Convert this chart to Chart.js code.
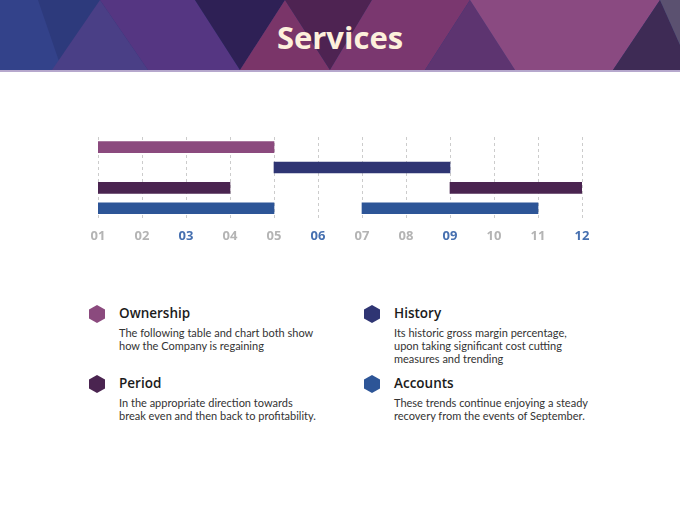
<!DOCTYPE html>
<html>
<head>
<meta charset="utf-8">
<script src="https://cdn.jsdelivr.net/npm/chart.js@4/dist/chart.umd.min.js"></script>
<style>
  html, body { margin: 0; padding: 0; background: #ffffff; }
  body { width: 680px; height: 510px; position: relative; overflow: hidden; font-family: "Open Sans", sans-serif; }
  #header { position: absolute; left: 0; top: 0; width: 680px; height: 72px; }
  #title { position: absolute; left: 0; top: 17px; width: 680px; text-align: center; font-family: "Open Sans", sans-serif; font-weight: 700; font-size: 31px; line-height: 40px; color: #fdf0dc; }
  #chartBox { position: absolute; left: 0; top: 120px; width: 680px; height: 151px; }
  .hex { position: absolute; width: 16px; height: 18px; clip-path: polygon(50% 0, 100% 25%, 100% 75%, 50% 100%, 0 75%, 0 25%); }
  .ttl { position: absolute; font-family: "Open Sans", sans-serif; font-weight: 600; font-size: 13.5px; color: #1b1b1b; white-space: nowrap; line-height: 18px; }
  .desc { position: absolute; font-family: Lato, sans-serif; font-size: 11px; color: #333333; line-height: 13px; white-space: nowrap; }
</style>
</head>
<body>
<svg id="header" width="680" height="72" viewBox="0 0 680 72">
  <rect x="0" y="0" width="680" height="70" fill="#2d3a7c"/>
  <polygon points="0,0 38,0 62,70 0,70" fill="#33428a"/>
  <polygon points="100,0 52,70 148,70" fill="#4a3f86"/>
  <polygon points="100,0 195,0 240,70 148,70" fill="#553682"/>
  <polygon points="195,0 285,0 240,70" fill="#2e2055"/>
  <polygon points="285,0 240,70 330,70" fill="#7a3569"/>
  <polygon points="285,0 372,0 330,70" fill="#4e2352"/>
  <polygon points="372,0 470,0 425,70 330,70" fill="#7a376f"/>
  <polygon points="470,0 425,70 515,70" fill="#5d3470"/>
  <polygon points="470,0 660,0 613,70 515,70" fill="#8a4a81"/>
  <polygon points="660,0 680,45 680,70 613,70" fill="#3e2b55"/>
  <polygon points="660,0 680,0 680,45" fill="#5b5170"/>
  <rect x="0" y="70" width="680" height="2" fill="#b6a8cd"/>
</svg>
<div id="title">Services</div>
<div id="chartBox"><canvas id="c"></canvas></div>
<div id="legend"></div>
<script>
const categories = ["Ownership", "History", "Period", "Accounts"];
const firstStart = [1, 5, 1, 1];
const firstEnd = [5, 9, 4, 5];
const secondStart = [null, null, 9, 7];
const secondEnd = [null, null, 12, 11];
const barColors = ["#8b4a7e", "#2f3573", "#4a2450", "#2d5597"];
const tickLabels = ["01","02","03","04","05","06","07","08","09","10","11","12"];
const highlightTicks = ["03","06","09","12"];
const descriptions = [
  ["The following table and chart both show", "how the Company is regaining"],
  ["Its historic gross margin percentage,", "upon taking significant cost cutting", "measures and trending"],
  ["In the appropriate direction towards", "break even and then back to profitability."],
  ["These trends continue enjoying a  steady", "recovery from the events of September."]
];

const firstData = categories.map((c, i) => [firstStart[i], firstEnd[i]]);
const secondData = categories.map((c, i) => secondStart[i] == null ? null : [secondStart[i], secondEnd[i]]);

new Chart(document.getElementById('c'), {
  type: 'bar',
  data: {
    labels: categories,
    datasets: [
      { label: 'Phase 1', data: firstData, backgroundColor: barColors, borderWidth: 0, barThickness: 11, grouped: false },
      { label: 'Phase 2', data: secondData, backgroundColor: barColors, borderWidth: 0, barThickness: 11, grouped: false }
    ]
  },
  options: {
    indexAxis: 'y',
    responsive: true,
    maintainAspectRatio: false,
    animation: false,
    layout: { padding: { left: 98, right: 98, top: 17, bottom: 17 } },
    plugins: { legend: { display: false }, tooltip: { enabled: false }, title: { display: false } },
    scales: {
      x: {
        type: 'linear', min: 1, max: 12,
        border: { display: false, dash: [3, 3] },
        grid: { color: '#cccccc', lineWidth: 1, drawTicks: false },
        ticks: {
          stepSize: 1, padding: 10,
          font: { family: 'Open Sans', weight: 'bold', size: 13 },
          color: ctx => highlightTicks.includes(tickLabels[ctx.tick.value - 1]) ? '#4670b0' : '#b4b4b4',
          callback: v => tickLabels[v - 1]
        }
      },
      y: { display: false, offset: true }
    }
  }
});

const legend = document.getElementById('legend');
const pos = [
  { x: 89, y: 305 },
  { x: 364, y: 305 },
  { x: 89, y: 375 },
  { x: 364, y: 375 }
];
categories.forEach((name, i) => {
  const p = pos[i];
  const hex = document.createElement('div');
  hex.className = 'hex';
  hex.style.left = p.x + 'px'; hex.style.top = p.y + 'px';
  hex.style.background = barColors[i];
  legend.appendChild(hex);
  const t = document.createElement('div');
  t.className = 'ttl';
  t.textContent = name;
  t.style.left = (p.x + 30) + 'px'; t.style.top = (p.y - 1) + 'px';
  legend.appendChild(t);
  descriptions[i].forEach((line, j) => {
    const d = document.createElement('div');
    d.className = 'desc';
    d.textContent = line;
    d.style.left = (p.x + 30) + 'px'; d.style.top = (p.y + 21 + j * 13) + 'px';
    legend.appendChild(d);
  });
});
</script>
</body>
</html>
